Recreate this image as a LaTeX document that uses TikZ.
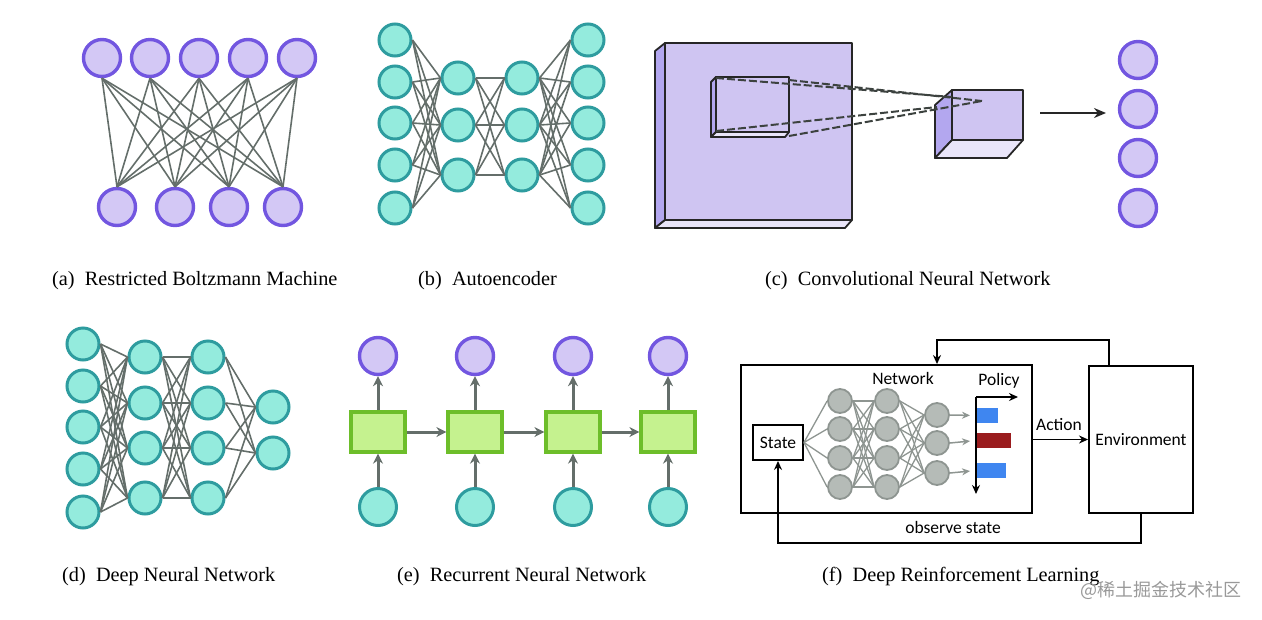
\documentclass[tikz,border=0pt]{standalone}
\usepackage{fontspec}
\setmainfont{Liberation Serif}
\newfontfamily\flowfont{Carlito}
\newfontfamily\cjk{Noto Sans CJK SC}
\usetikzlibrary{arrows.meta}
\definecolor{lavfill}{HTML}{D3C8F5}
\definecolor{lavline}{HTML}{7256E0}
\definecolor{tealfill}{HTML}{94EBDD}
\definecolor{tealline}{HTML}{2E9C9F}
\definecolor{boxfill}{HTML}{C5F28F}
\definecolor{boxline}{HTML}{6DBE2A}
\definecolor{wire}{HTML}{646E6A}
\definecolor{slabfront}{HTML}{CFC5F2}
\definecolor{slabside}{HTML}{B3A7EF}
\definecolor{slabbottom}{HTML}{E9E5F9}
\definecolor{greyfill}{HTML}{B5BBB7}
\definecolor{greyline}{HTML}{8E9591}
\definecolor{barblue}{HTML}{3F86F0}
\definecolor{barred}{HTML}{9A1C1E}
\tikzset{
    purpleunit/.style={circle,draw=lavline,fill=lavfill,line width=3.4pt,minimum size=37pt,inner sep=0pt},
    tealunit/.style={circle,draw=tealline,fill=tealfill,line width=3pt,minimum size=32pt,inner sep=0pt},
    greyunit/.style={circle,draw=greyline,fill=greyfill,line width=1.8pt,minimum size=24pt,inner sep=0pt},
    cell/.style={rectangle,draw=boxline,fill=boxfill,line width=3.2pt,minimum width=54pt,minimum height=40pt,inner sep=0pt},
    wireline/.style={draw=wire,line width=1.6pt},
    rnnarrow/.style={draw=wire,line width=3pt,-{Stealth[length=10pt,width=10pt]}},
    flowarrow/.style={draw=black,line width=1.8pt,-{Stealth[length=9pt,width=8pt]}},
    flowbox/.style={rectangle,draw=black,line width=1.9pt,inner sep=0pt},
    slab/.style={draw=black!85,line width=1.8pt,line join=round},
    caption/.style={font=\fontsize{20.3}{23}\selectfont,anchor=west,inner sep=0pt},
    flowlabel/.style={font=\flowfont\fontsize{17.5}{20}\selectfont,inner sep=0pt},
}
\begin{document}
\begin{tikzpicture}[x=1pt,y=-1pt]
    \useasboundingbox (0,0) rectangle (1262,619);
    % (a) restricted boltzmann machine
    \foreach \x [count=\i] in {102,150,199,248,297}
        \node[purpleunit] (rt\i) at (\x,58) {};
    \foreach \x [count=\j] in {117,175,229,283}
        \node[purpleunit] (rb\j) at (\x,207) {};
    \foreach \i in {1,...,5}
        \foreach \j in {1,...,4}
            \draw[wireline] (rt\i.south) -- (rb\j.north);
    \node[caption] (capa) at (52,281) {(a)\ \ Restricted Boltzmann Machine};
    % (b) autoencoder
    \foreach \y [count=\i] in {40,82,123,165,208} {
        \node[tealunit] (ea\i) at (395,\y) {};
        \node[tealunit] (ed\i) at (588,\y) {};
    }
    \foreach \y [count=\i] in {78,125,175} {
        \node[tealunit] (eb\i) at (458,\y) {};
        \node[tealunit] (ec\i) at (522,\y) {};
    }
    \foreach \i in {1,...,5}
        \foreach \j in {1,...,3} {
            \draw[wireline] (ea\i.east) -- (eb\j.west);
            \draw[wireline] (ec\j.east) -- (ed\i.west);
        }
    \foreach \i in {1,...,3}
        \foreach \j in {1,...,3}
            \draw[wireline] (eb\i.east) -- (ec\j.west);
    \node[caption] (capb) at (418,281) {(b)\ \ Autoencoder};
    % (c) convolutional neural network
    \draw[slab,fill=slabside] (665,43) -- (655,51) -- (655,228) -- (665,220) -- cycle;
    \draw[slab,fill=slabbottom] (665,220) -- (655,228) -- (845,228) -- (852,220) -- cycle;
    \draw[slab,fill=slabfront] (665,43) rectangle (852,220);
    \draw[slab,fill=slabside] (716,77) -- (711,82) -- (711,137) -- (716,132) -- cycle;
    \draw[slab,fill=slabbottom] (716,132) -- (711,137) -- (785,137) -- (789,132) -- cycle;
    \draw[slab,fill=slabfront] (716,77) rectangle (789,132);
    \draw[slab,fill=slabside] (952,90) -- (935,105) -- (935,158) -- (952,140) -- cycle;
    \draw[slab,fill=slabbottom] (952,140) -- (935,158) -- (1007,158) -- (1023,140) -- cycle;
    \draw[slab,fill=slabfront] (952,90) rectangle (1023,140);
    \draw[wire!60!black,line width=2pt,dash pattern=on 8pt off 3pt]
        (716,78) -- (952,97)
        (789,80) -- (982,101)
        (716,131) -- (937,107)
        (789,136) -- (982,101);
    \foreach \y [count=\i] in {60,109,158,208}
        \node[purpleunit] (co\i) at (1138,\y) {};
    \draw[black!85,line width=2pt,-{Stealth[length=12pt,width=10pt]}] (1040,113) -- (1106,113);
    \node[caption] (capc) at (765,281) {(c)\ \ Convolutional Neural Network};
    % (d) deep neural network
    \foreach \y [count=\i] in {344,386,427,469,512}
        \node[tealunit] (da\i) at (83,\y) {};
    \foreach \y [count=\i] in {357,403,448,498} {
        \node[tealunit] (db\i) at (145,\y) {};
        \node[tealunit] (dc\i) at (208,\y) {};
    }
    \foreach \y [count=\i] in {407,453}
        \node[tealunit] (dd\i) at (273,\y) {};
    \foreach \i in {1,...,5}
        \foreach \j in {1,...,4}
            \draw[wireline] (da\i.east) -- (db\j.west);
    \foreach \i in {1,...,4} {
        \foreach \j in {1,...,4}
            \draw[wireline] (db\i.east) -- (dc\j.west);
        \foreach \j in {1,2}
            \draw[wireline] (dc\i.east) -- (dd\j.west);
    }
    \node[caption] (capd) at (62,577) {(d)\ \ Deep Neural Network};
    % (e) recurrent neural network
    \foreach \x [count=\i] in {378,475,573,668} {
        \node[purpleunit] (ry\i) at (\x,356) {};
        \node[cell] (rh\i) at (\x,432) {};
        \node[tealunit,minimum size=37pt] (rx\i) at (\x,507) {};
        \draw[rnnarrow] (rx\i) -- (rh\i);
        \draw[rnnarrow] (rh\i) -- (ry\i);
    }
    \foreach \i/\j in {1/2,2/3,3/4}
        \draw[rnnarrow] (rh\i) -- (rh\j);
    \node[caption] (cape) at (397,577) {(e)\ \ Recurrent Neural Network};
    % (f) deep reinforcement learning
    \node[flowbox,minimum width=291pt,minimum height=148pt] (agent) at (886.5,439) {};
    \node[flowbox,minimum width=104pt,minimum height=147pt] (env) at (1141,439.5) {};
    \node[flowlabel] at (env) {Environment};
    \node[flowbox,minimum width=50pt,minimum height=35pt,font=\flowfont\fontsize{17.5}{20}\selectfont] (state) at (778,442.5) {State};
    \foreach \y [count=\i] in {401,429,458,487} {
        \node[greyunit] (ga\i) at (840,\y) {};
        \node[greyunit] (gb\i) at (887,\y) {};
    }
    \foreach \y [count=\i] in {415,443,473}
        \node[greyunit] (gc\i) at (937,\y) {};
    \foreach \i in {1,...,4} {
        \draw[draw=greyline,line width=1.3pt] (state.east) -- (ga\i.west);
        \foreach \j in {1,...,4}
            \draw[draw=greyline,line width=1.3pt] (ga\i.east) -- (gb\j.west);
        \foreach \j in {1,...,3}
            \draw[draw=greyline,line width=1.3pt] (gb\i.east) -- (gc\j.west);
    }
    \node[flowlabel] at (903,378) {Network};
    \node[flowlabel] at (999,381) {Policy};
    \coordinate (pol) at (976,397);
    \draw[flowarrow,line width=1.6pt] (pol) -- (976,494);
    \draw[flowarrow,line width=1.6pt] (pol) -- (1018,397);
    \node[rectangle,fill=barblue,minimum width=21pt,minimum height=15pt,inner sep=0pt,anchor=west] (bar1) at (977,415.5) {};
    \node[rectangle,fill=barred,minimum width=34pt,minimum height=15pt,inner sep=0pt,anchor=west] (bar2) at (977,440.5) {};
    \node[rectangle,fill=barblue,minimum width=29pt,minimum height=15pt,inner sep=0pt,anchor=west] (bar3) at (977,470.5) {};
    \foreach \i in {1,2,3}
        \draw[draw=greyline,line width=1.5pt,-{Stealth[length=8pt,width=7pt]},shorten >=6pt] (gc\i.east) -- (bar\i.west -| 976,0);
    \draw[flowarrow] (agent.east |- env) -- (env.west);
    \node[flowlabel] at (1059,425) {Action};
    \draw[flowarrow] ([xshift=-32pt]env.north) -- ++(0,-25) -| ([xshift=50.5pt]agent.north);
    \draw[flowarrow] (env.south) -- ++(0,29) -| (state.south);
    \node[flowlabel] at (953,527) {observe state};
    \node[caption] (capf) at (822,577) {(f)\ \ Deep Reinforcement Learning};
    \node[font=\cjk\fontsize{18}{21}\selectfont,text=black!40,inner sep=0pt] (mark) at (1161,590) {@稀土掘金技术社区};
\end{tikzpicture}
\end{document}
